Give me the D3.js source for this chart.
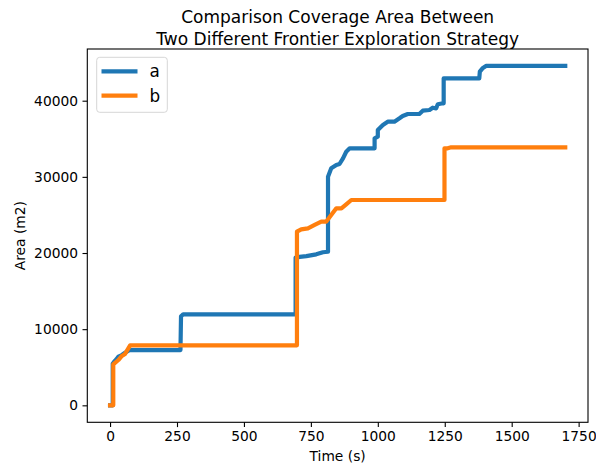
<!DOCTYPE html>
<html>
<head>
<meta charset="utf-8">
<script src="https://cdn.jsdelivr.net/npm/d3@7"></script>
<style>
  body { margin: 0; background: #fff; }
  text { font-family: "DejaVu Sans", sans-serif; fill: #000; }
</style>
</head>
<body>
<div id="chart"></div>
<script>
// series a (blue) : [time, area]
const seriesA = [
  [0, 0], [10, 0], [10, 5450], [16, 5750], [24, 6050], [31, 6400], [44, 6600], [56, 6900],
  [70, 7200], [78, 7260], [263, 7260], [265, 11700], [273, 11950], [693, 11950],
  [693, 19400], [708, 19500], [733, 19600], [770, 19830], [795, 20100], [814, 20170],
  [814, 30020], [826, 31120], [845, 31560], [857, 31690], [870, 32430], [882, 33300],
  [895, 33750], [988, 33750], [988, 35060], [1000, 35270], [1000, 36150], [1019, 36810],
  [1037, 37240], [1062, 37240], [1081, 37690], [1093, 37990], [1112, 38250], [1155, 38250],
  [1168, 38690], [1193, 38780], [1205, 39080], [1218, 39000], [1224, 39530], [1243, 39660],
  [1246, 39660], [1246, 42940], [1261, 42940], [1379, 42940], [1381, 43810], [1391, 44250],
  [1404, 44560], [1700, 44560]
]
// series b (orange)
const seriesB = [
  [0, 0], [12, 0], [12, 5380], [31, 5950], [44, 6480], [56, 6750], [75, 7880], [698, 7880],
  [698, 22800], [714, 23110], [739, 23240], [764, 23680], [789, 24110], [807, 24110],
  [826, 24990], [845, 25870], [864, 25870], [882, 26400], [901, 26960], [1249, 26960],
  [1249, 33750], [1261, 33750], [1274, 33880], [1700, 33880]
]
const seriesNames = ["a", "b"]
const seriesColors = ["#1f77b4", "#ff7f0e"]
const xTicks = [0, 250, 500, 750, 1000, 1250, 1500, 1750]
const yTicks = [0, 10000, 20000, 30000, 40000]
const titleLines = ["Comparison Coverage Area Between", "Two Different Frontier Exploration Strategy"]

const width = 596, height = 464
const mLeft = 87.3, mRight = 588, mTop = 49, mBottom = 422.3

let svg = d3.select("#chart").append("svg")
  .attr("width", width)
  .attr("height", height)

// matplotlib-like 5% margins
const all = seriesA.concat(seriesB)
const xe = d3.extent(all, d => d[0])
const ye = d3.extent(all, d => d[1])
const xp = (xe[1] - xe[0]) * 0.05, yp = (ye[1] - ye[0]) * 0.05

const x = d3.scaleLinear().domain([xe[0] - xp, xe[1] + xp]).range([mLeft, mRight])
const y = d3.scaleLinear().domain([ye[0] - yp, ye[1] + yp]).range([mBottom, mTop])

// axes
const xAxis = svg.append("g")
  .attr("transform", `translate(0,${mBottom})`)
  .call(d3.axisBottom(x).tickValues(xTicks).tickFormat(d3.format("d")).tickSizeOuter(0).tickSize(4.8).tickPadding(4.5))
const yAxis = svg.append("g")
  .attr("transform", `translate(${mLeft},0)`)
  .call(d3.axisLeft(y).tickValues(yTicks).tickFormat(d3.format("d")).tickSizeOuter(0).tickSize(4.8).tickPadding(4.5))

for (const ax of [xAxis, yAxis]) {
  ax.select(".domain").remove()
  ax.selectAll("line").attr("stroke", "#000").attr("stroke-width", 1.1)
  ax.selectAll("text").style("font-family", "DejaVu Sans").style("font-size", "13.8px").attr("fill", "#000")
}

// lines
const line = d3.line().x(d => x(d[0])).y(d => y(d[1]))
const data = [seriesA, seriesB]
svg.append("g").selectAll("path")
  .data(data)
  .enter()
  .append("path")
    .attr("d", d => line(d))
    .attr("fill", "none")
    .attr("stroke", (d, i) => seriesColors[i])
    .attr("stroke-width", 4.2)
    .attr("stroke-linejoin", "round")
    .attr("stroke-linecap", "square")

// frame
svg.append("rect")
  .attr("x", mLeft).attr("y", mTop)
  .attr("width", mRight - mLeft).attr("height", mBottom - mTop)
  .attr("fill", "none").attr("stroke", "#000").attr("stroke-width", 1.1)

// title
svg.append("g").selectAll("text")
  .data(titleLines)
  .enter()
  .append("text")
    .attr("x", (mLeft + mRight) / 2)
    .attr("y", (d, i) => 22.6 + i * 22)
    .attr("text-anchor", "middle")
    .style("font-size", "17px")
    .text(d => d)

// axis labels
svg.append("text")
  .attr("x", (mLeft + mRight) / 2).attr("y", 461)
  .attr("text-anchor", "middle")
  .style("font-size", "13.8px")
  .text("Time (s)")
svg.append("text")
  .attr("transform", `translate(25,${(mTop + mBottom) / 2}) rotate(-90)`)
  .attr("text-anchor", "middle")
  .style("font-size", "13.8px")
  .text("Area (m2)")

// legend
const lg = svg.append("g")
lg.append("rect")
  .attr("x", 96.7).attr("y", 57.3)
  .attr("width", 70.6).attr("height", 55)
  .attr("rx", 3)
  .attr("fill", "#fff").attr("fill-opacity", 0.8)
  .attr("stroke", "#d6d6d6").attr("stroke-width", 1)
seriesNames.forEach((name, i) => {
  const ly = 71.3 + i * 24.4
  lg.append("line")
    .attr("x1", 101.5).attr("x2", 137.5)
    .attr("y1", ly).attr("y2", ly)
    .attr("stroke", seriesColors[i]).attr("stroke-width", 4.2)
  lg.append("text")
    .attr("x", 149.5).attr("y", ly + 6)
    .style("font-size", "16.8px")
    .text(name)
})
</script>
</body>
</html>
